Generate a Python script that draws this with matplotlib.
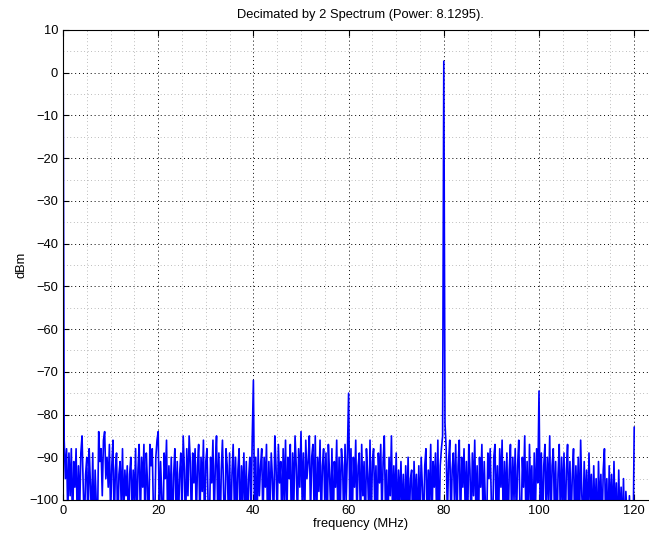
import numpy as np
import matplotlib
matplotlib.use('Agg')
import matplotlib.pyplot as plt
from matplotlib.ticker import MultipleLocator

plt.rcParams['font.family'] = ['Liberation Sans', 'DejaVu Sans']

# spectrum samples every 0.25 MHz, rows of 5 MHz (dBm)
freq_step = 0.25
spectrum = [
    15, -86, -95, -88, -104, -89, -99, -88, -108, -91, -97, -88, -106, -92, -103, -89, -85, -97, -107, -94,
    -90, -108, -88, -96, -105, -89, -110, -93, -101, -106, -84, -91, -88, -99, -86, -84, -95, -90, -97, -87,
    -104, -92, -86, -107, -93, -89, -109, -94, -91, -102, -88, -105, -93, -99, -92, -108, -94, -90, -104, -93,
    -101, -88, -107, -93, -87, -105, -90, -97, -87, -109, -89, -96, -108, -87, -92, -88, -103, -107, -90, -86,
    -84, -106, -91, -99, -109, -89, -95, -86, -107, -92, -101, -90, -110, -94, -88, -103, -91, -106, -94, -89,
    -104, -85, -93, -108, -88, -99, -85, -91, -107, -89, -96, -88, -105, -92, -87, -106, -90, -98, -86, -109,
    -91, -88, -102, -107, -90, -96, -86, -106, -92, -85, -103, -89, -110, -93, -86, -99, -107, -88, -92, -104,
    -89, -108, -94, -87, -102, -90, -106, -93, -88, -109, -92, -100, -89, -105, -91, -107, -95, -90, -104, -86,
    -72, -105, -90, -108, -88, -99, -92, -88, -106, -90, -97, -87, -109, -91, -102, -89, -95, -107, -85, -92,
    -105, -87, -96, -91, -108, -88, -100, -86, -106, -90, -95, -87, -109, -89, -101, -85, -92, -105, -88, -97,
    -84, -101, -89, -107, -86, -95, -91, -85, -104, -90, -87, -102, -85, -109, -90, -98, -86, -106, -92, -88,
    -101, -89, -108, -87, -94, -103, -88, -110, -91, -97, -86, -106, -90, -103, -88, -92, -107, -87, -100, -89,
    -75, -103, -88, -108, -90, -97, -86, -105, -92, -89, -107, -87, -99, -91, -110, -88, -94, -104, -86, -106,
    -91, -88, -102, -92, -107, -89, -96, -87, -105, -91, -85, -103, -93, -109, -90, -99, -85, -106, -92, -102,
    -89, -107, -93, -101, -91, -105, -94, -108, -92, -103, -90, -106, -95, -93, -110, -91, -101, -94, -107, -92,
    -104, -90, -97, -108, -92, -88, -106, -93, -101, -87, -107, -91, -97, -89, -105, -86, -110, -92, -88, -85,
    2.7, -82, -88, -104, -91, -86, -107, -93, -89, -101, -87, -105, -92, -86, -108, -90, -97, -88, -103, -91,
    -106, -87, -93, -107, -89, -99, -86, -104, -92, -110, -90, -97, -87, -105, -91, -102, -107, -89, -95, -88,
    -101, -108, -90, -87, -104, -92, -106, -88, -97, -86, -107, -91, -102, -89, -109, -93, -87, -105, -90, -100,
    -88, -106, -92, -86, -102, -108, -90, -97, -85, -105, -91, -107, -87, -100, -92, -110, -89, -103, -88, -96,
    -74.5, -103, -89, -108, -92, -87, -105, -90, -100, -85, -107, -92, -88, -104, -91, -110, -94, -87, -106, -90,
    -101, -89, -109, -93, -87, -104, -91, -106, -94, -88, -108, -92, -102, -90, -107, -86, -99, -105, -91, -103,
    -93, -107, -89, -101, -94, -108, -92, -105, -95, -110, -91, -103, -94, -107, -93, -88, -106, -95, -109, -92,
    -104, -94, -107, -91, -105, -96, -110, -93, -106, -97, -108, -95, -111, -98, -104, -109, -99, -111, -106, -112,
    -83,
]
freq = np.arange(len(spectrum)) * freq_step

fig = plt.figure(figsize=(6.49, 5.35), dpi=100)
# axes runs past the right edge of the picture, as in the reference
ax = fig.add_axes([63 / 649, 35 / 535, 595 / 649, 470 / 535])

ax.plot(freq, spectrum, color='#0000ff', linewidth=1.2)

ax.set_xlim(0, 125)
ax.set_ylim(-100, 10)
ax.xaxis.set_major_locator(MultipleLocator(20))
ax.xaxis.set_minor_locator(MultipleLocator(5))
ax.yaxis.set_major_locator(MultipleLocator(10))
ax.yaxis.set_minor_locator(MultipleLocator(5))
ax.tick_params(which='major', direction='in', top=True, right=True, length=4,
               labelsize=9.3, width=0.8)
ax.tick_params(which='minor', length=0)

ax.grid(which='major', color='black', linestyle=(0, (1, 3)), linewidth=0.7)
ax.grid(which='minor', color='0.5', linestyle=(0, (1, 4)), linewidth=0.5)
ax.set_axisbelow(True)
for s in ax.spines.values():
    s.set_linewidth(0.8)

ax.set_title('Decimated by 2 Spectrum (Power: 8.1295).', fontsize=9.3, pad=8.5)
ax.set_xlabel('frequency (MHz)', fontsize=9.3, labelpad=0.5)
ax.set_ylabel('dBm', fontsize=9.3, labelpad=1)

fig.savefig('out.png', dpi=100)
